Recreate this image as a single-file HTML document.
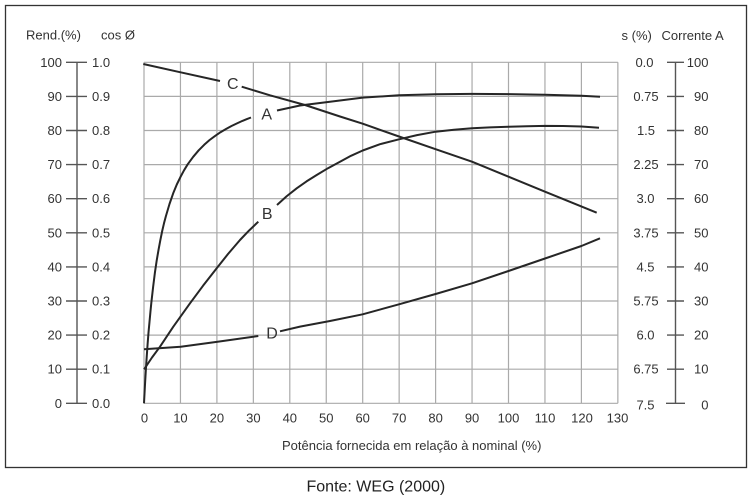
<!DOCTYPE html>
<html>
<head>
<meta charset="utf-8">
<style>
  html,body{margin:0;padding:0;background:#fff;}
  svg{display:block;}
  text{font-family:"Liberation Sans",Arial,sans-serif;fill:#333;}
</style>
</head>
<body>
<svg width="753" height="500" viewBox="0 0 753 500" xmlns="http://www.w3.org/2000/svg">
  <rect x="0" y="0" width="753" height="500" fill="#fff"/>
  <rect x="5.5" y="5.5" width="741" height="462" fill="#fff" stroke="#333" stroke-width="1.3"/>

  <!-- grid -->
  <g stroke="#aaa" stroke-width="1.2" fill="none">
    <line x1="144" y1="62.3" x2="144" y2="403.3"/>
    <line x1="180.45" y1="62.3" x2="180.45" y2="403.3"/>
    <line x1="216.9" y1="62.3" x2="216.9" y2="403.3"/>
    <line x1="253.35" y1="62.3" x2="253.35" y2="403.3"/>
    <line x1="289.8" y1="62.3" x2="289.8" y2="403.3"/>
    <line x1="326.25" y1="62.3" x2="326.25" y2="403.3"/>
    <line x1="362.7" y1="62.3" x2="362.7" y2="403.3"/>
    <line x1="399.15" y1="62.3" x2="399.15" y2="403.3"/>
    <line x1="435.6" y1="62.3" x2="435.6" y2="403.3"/>
    <line x1="472.05" y1="62.3" x2="472.05" y2="403.3"/>
    <line x1="508.5" y1="62.3" x2="508.5" y2="403.3"/>
    <line x1="544.95" y1="62.3" x2="544.95" y2="403.3"/>
    <line x1="581.4" y1="62.3" x2="581.4" y2="403.3"/>
    <line x1="617.85" y1="62.3" x2="617.85" y2="403.3"/>
    <line x1="144" y1="403.3" x2="617.85" y2="403.3"/>
    <line x1="144" y1="369.2" x2="617.85" y2="369.2"/>
    <line x1="144" y1="335.1" x2="617.85" y2="335.1"/>
    <line x1="144" y1="301" x2="617.85" y2="301"/>
    <line x1="144" y1="266.9" x2="617.85" y2="266.9"/>
    <line x1="144" y1="232.8" x2="617.85" y2="232.8"/>
    <line x1="144" y1="198.7" x2="617.85" y2="198.7"/>
    <line x1="144" y1="164.6" x2="617.85" y2="164.6"/>
    <line x1="144" y1="130.5" x2="617.85" y2="130.5"/>
    <line x1="144" y1="96.4" x2="617.85" y2="96.4"/>
    <line x1="144" y1="62.3" x2="617.85" y2="62.3"/>
  </g>

  <!-- left axis -->
  <g stroke="#555" stroke-width="1.4">
    <line x1="77" y1="62.3" x2="77" y2="403.3"/>
    <line x1="66" y1="62.3" x2="87" y2="62.3"/>
    <line x1="66" y1="96.4" x2="87" y2="96.4"/>
    <line x1="66" y1="130.5" x2="87" y2="130.5"/>
    <line x1="66" y1="164.6" x2="87" y2="164.6"/>
    <line x1="66" y1="198.7" x2="87" y2="198.7"/>
    <line x1="66" y1="232.8" x2="87" y2="232.8"/>
    <line x1="66" y1="266.9" x2="87" y2="266.9"/>
    <line x1="66" y1="301" x2="87" y2="301"/>
    <line x1="66" y1="335.1" x2="87" y2="335.1"/>
    <line x1="66" y1="369.2" x2="87" y2="369.2"/>
    <line x1="66" y1="403.3" x2="87" y2="403.3"/>
  </g>
  <!-- right axis -->
  <g stroke="#555" stroke-width="1.4">
    <line x1="675.5" y1="62.3" x2="675.5" y2="403.3"/>
    <line x1="667" y1="62.3" x2="684" y2="62.3"/>
    <line x1="667" y1="96.4" x2="684" y2="96.4"/>
    <line x1="667" y1="130.5" x2="684" y2="130.5"/>
    <line x1="667" y1="164.6" x2="684" y2="164.6"/>
    <line x1="667" y1="198.7" x2="684" y2="198.7"/>
    <line x1="667" y1="232.8" x2="684" y2="232.8"/>
    <line x1="667" y1="266.9" x2="684" y2="266.9"/>
    <line x1="667" y1="301" x2="684" y2="301"/>
    <line x1="667" y1="335.1" x2="684" y2="335.1"/>
    <line x1="667" y1="369.2" x2="684" y2="369.2"/>
    <line x1="666" y1="403.3" x2="685" y2="403.3"/>
  </g>

  <!-- headers -->
  <g font-size="13">
    <text x="26" y="39.5">Rend.(%)</text>
    <text x="101" y="39.5">cos Ø</text>
    <text x="621.5" y="40">s (%)</text>
    <text x="661.5" y="40">Corrente A</text>
  </g>

  <!-- left tick labels -->
  <g font-size="13" text-anchor="end">
    <text x="62" y="67">100</text>
    <text x="62" y="101">90</text>
    <text x="62" y="135">80</text>
    <text x="62" y="169">70</text>
    <text x="62" y="203">60</text>
    <text x="62" y="237.5">50</text>
    <text x="62" y="271.5">40</text>
    <text x="62" y="305.5">30</text>
    <text x="62" y="339.5">20</text>
    <text x="62" y="373.5">10</text>
    <text x="62" y="408">0</text>
  </g>
  <g font-size="13">
    <text x="92" y="67">1.0</text>
    <text x="92" y="101">0.9</text>
    <text x="92" y="135">0.8</text>
    <text x="92" y="169">0.7</text>
    <text x="92" y="203">0.6</text>
    <text x="92" y="237.5">0.5</text>
    <text x="92" y="271.5">0.4</text>
    <text x="92" y="305.5">0.3</text>
    <text x="92" y="339.5">0.2</text>
    <text x="92" y="373.5">0.1</text>
    <text x="92" y="408">0.0</text>
  </g>

  <!-- right tick labels -->
  <g font-size="13" text-anchor="middle">
    <text x="644.5" y="67">0.0</text>
    <text x="646" y="101">0.75</text>
    <text x="646" y="135">1.5</text>
    <text x="646" y="169">2.25</text>
    <text x="645.5" y="203">3.0</text>
    <text x="646" y="237.5">3.75</text>
    <text x="645.5" y="271.5">4.5</text>
    <text x="646" y="305.5">5.75</text>
    <text x="645.5" y="339.5">6.0</text>
    <text x="646" y="373.5">6.75</text>
    <text x="645.5" y="409.5">7.5</text>
  </g>
  <g font-size="13" text-anchor="end">
    <text x="708.5" y="67">100</text>
    <text x="708.5" y="101">90</text>
    <text x="708.5" y="135">80</text>
    <text x="708.5" y="169">70</text>
    <text x="708.5" y="203">60</text>
    <text x="708.5" y="237.5">50</text>
    <text x="708.5" y="271.5">40</text>
    <text x="708.5" y="305.5">30</text>
    <text x="708.5" y="339.5">20</text>
    <text x="708.5" y="373.5">10</text>
    <text x="708.5" y="409.5">0</text>
  </g>

  <!-- bottom tick labels -->
  <g font-size="13" text-anchor="middle">
    <text x="144.5" y="422.5">0</text>
    <text x="180.45" y="422.5">10</text>
    <text x="216.9" y="422.5">20</text>
    <text x="253.35" y="422.5">30</text>
    <text x="289.8" y="422.5">40</text>
    <text x="326.25" y="422.5">50</text>
    <text x="362.7" y="422.5">60</text>
    <text x="399.15" y="422.5">70</text>
    <text x="435.6" y="422.5">80</text>
    <text x="472.05" y="422.5">90</text>
    <text x="508.5" y="422.5">100</text>
    <text x="544.95" y="422.5">110</text>
    <text x="582" y="422.5">120</text>
    <text x="617.5" y="422.5">130</text>
  </g>

  <text x="282" y="450" font-size="13">Potência fornecida em relação à nominal (%)</text>
  <text x="306.5" y="491.5" font-size="16" style="fill:#222">Fonte: WEG (2000)</text>

  <!-- curves -->
  <g fill="none" stroke="#262626" stroke-width="2" stroke-linejoin="round" stroke-linecap="butt">
    <!-- A -->
    <polyline points="144,403.3 144.9,386.2 145.8,370.8 146.7,357 147.6,344.2 148.5,332.6 149.5,321.9 150.4,312.1 151.3,303 153.1,287.1 154.9,272.7 156.7,260.5 158.6,249.4 160.4,239.8 162.2,231 164,223.3 165.9,216.1 169.5,204 173.2,193.3 176.8,184.5 180.5,176.9 184.1,170.2 187.7,164.3 193.2,156.8 198.7,150.3 204.2,144.8 209.6,140 215.1,135.9 220.5,132.2 226,129 231.5,126 237,123.4 242.4,120.9 246.6,119.2 251,117.5"/>
    <polyline points="277,110.5 300,105.5 330,101.7 362.7,97.6 399,95.3 435.6,94.2 472,93.9 508.5,94.1 545,94.7 581.4,95.7 600,96.7"/>
    <!-- B -->
    <polyline points="144,369.3 145,368 152,357.5 160,346.7 173.3,326.7 190,303.3 203,285.8 216.7,268.3 228,254 240,240 249,230.6 258.3,221.7"/>
    <polyline points="277,205 286.5,196.4 296.7,188.3 306.5,181.4 316.7,175 328,168.2 340,161.7 351,155.8 362.7,150.5 380,144.2 399,139.3 417,135.1 435.6,131.7 454,129.7 472,128.3 490,127.4 508.5,126.7 527,126.2 545,125.9 563,126 581.4,126.5 599,127.7"/>
    <!-- C -->
    <polyline points="143.3,64 180,72.2 220,81"/>
    <polyline points="241.7,86.7 270,95.3 305,105 340,116.5 362.7,123.7 399,136.5 435.6,149.2 472,161.7 508.5,176.7 545,191.7 596.7,212.7"/>
    <!-- D -->
    <polyline points="144,349.3 180.7,346.7 216.7,341.9 258.3,336"/>
    <polyline points="280,331.3 300,326.6 330,321 362.7,314.3 399,304.3 435.6,294 472,283.3 508.5,271 545,258.5 581.4,246 600,238.3"/>
  </g>

  <!-- curve labels -->
  <g font-size="16" text-anchor="middle" style="fill:#2a2a2a">
    <text x="232.8" y="89">C</text>
    <text x="266.7" y="119.3">A</text>
    <text x="267.2" y="219">B</text>
    <text x="272" y="338.3">D</text>
  </g>
</svg>
</body>
</html>
